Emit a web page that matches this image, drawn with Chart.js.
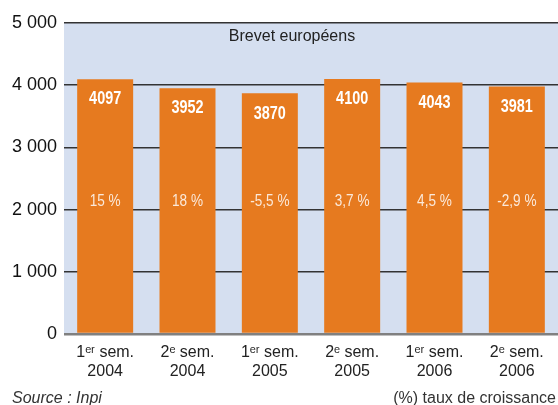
<!DOCTYPE html>
<html>
<head>
<meta charset="utf-8">
<script src="https://cdn.jsdelivr.net/npm/chart.js@4"></script>
<style>
html,body{margin:0;padding:0;background:#fff;}
#wrap{width:558px;height:405px;position:relative;}
</style>
</head>
<body>
<div id="wrap"><canvas id="c" width="558" height="405"></canvas></div>
<script>
const categories = [["1ᵉʳ sem.","2004"],["2ᵉ sem.","2004"],["1ᵉʳ sem.","2005"],["2ᵉ sem.","2005"],["1ᵉʳ sem.","2006"],["2ᵉ sem.","2006"]];
const values = [4097, 3952, 3870, 4100, 4043, 3981];
const growth = ["15 %", "18 %", "-5,5 %", "3,7 %", "4,5 %", "-2,9 %"];
const yTicks = [0, 1000, 2000, 3000, 4000, 5000];
const titleText = "Brevet européens";
const sourceText = "Source : Inpi";
const noteText = "(%) taux de croissance";

const ORANGE = "#e67a1f";
const BG = "#d5dff0";
const SANS = "'Liberation Sans', Arial, sans-serif";

function narrowText(ctx, text, x, y, font, sx) {
  ctx.save();
  ctx.translate(x, y);
  ctx.scale(sx, 1);
  ctx.font = font;
  ctx.fillText(text, 0, 0);
  ctx.restore();
}

const decor = {
  id: "decor",
  beforeDraw(chart) {
    const {ctx, chartArea: a} = chart;
    ctx.save();
    ctx.fillStyle = BG;
    ctx.fillRect(a.left, a.top, a.right - a.left, a.bottom - a.top);
    ctx.restore();
  },
  afterDatasetsDraw(chart) {
    const {ctx} = chart;
    const meta = chart.getDatasetMeta(0);
    const ys = chart.scales.y;
    ctx.save();
    ctx.textAlign = "center";
    ctx.textBaseline = "middle";
    meta.data.forEach((bar, i) => {
      ctx.fillStyle = "#ffffff";
      narrowText(ctx, String(values[i]), bar.x, bar.y + 20, "bold 19px " + SANS, 0.76);
      ctx.fillStyle = "#fbe9da";
      narrowText(ctx, growth[i], bar.x, ys.getPixelForValue(2000) - 8, "17px " + SANS, 0.8);
    });
    ctx.fillStyle = "#222";
    ctx.font = "16px " + SANS;
    ctx.fillText(titleText, 292, 37);
    ctx.textBaseline = "alphabetic";
    ctx.textAlign = "left";
    ctx.font = "italic 16px " + SANS;
    ctx.fillStyle = "#333";
    ctx.fillText(sourceText, 12, 403);
    ctx.textAlign = "right";
    ctx.font = "16px " + SANS;
    ctx.fillText(noteText, 556, 403);
    ctx.restore();
  }
};

new Chart(document.getElementById("c"), {
  type: "bar",
  data: {
    labels: categories,
    datasets: [{
      data: values,
      backgroundColor: ORANGE,
      borderWidth: 0,
      barPercentage: 0.68,
      categoryPercentage: 1
    }]
  },
  options: {
    responsive: false,
    animation: false,
    events: [],
    layout: { padding: { top: 23, right: 0, left: 0, bottom: 0 } },
    plugins: { legend: { display: false }, tooltip: { enabled: false }, title: { display: false } },
    scales: {
      x: {
        grid: { display: false, drawTicks: false },
        border: { display: false },
        ticks: {
          color: "#222",
          font: { family: SANS, size: 16, lineHeight: 1.2 },
          padding: 9,
          maxRotation: 0,
          autoSkip: false
        },
        afterFit(s) { s.height = 71; }
      },
      y: {
        min: 0, max: 5000,
        afterBuildTicks(s) { s.ticks = yTicks.map(v => ({value: v})); },
        grid: {
          color: ctx => ctx.tick && ctx.tick.value === 0 ? "#808080" : "#333333",
          lineWidth: ctx => ctx.tick && ctx.tick.value === 0 ? 2.5 : 1.5,
          drawTicks: false
        },
        border: { display: false },
        ticks: {
          color: "#111",
          font: { family: SANS, size: 18 },
          padding: 7,
          callback: v => String(v).replace(/\B(?=(\d{3})+(?!\d))/g, " ")
        },
        afterFit(s) { s.width = 64; }
      }
    }
  },
  plugins: [decor]
});
</script>
</body>
</html>
